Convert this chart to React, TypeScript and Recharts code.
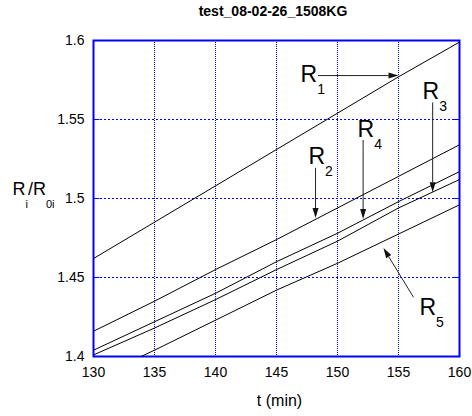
import {
  Label,
  Line,
  LineChart,
  ReferenceArea,
  ReferenceDot,
  ReferenceLine,
  XAxis,
  YAxis,
} from "recharts";

// sample times (min) and normalised resistance
const times = [130, 135, 140, 145, 150, 155, 160];
const r1 = [1.462, 1.485, 1.508, 1.531, 1.554, 1.577, 1.599];
const r2 = [1.416, 1.435, 1.455, 1.474, 1.494, 1.514, 1.534];
const r4 = [1.404, 1.422, 1.44, 1.46, 1.478, 1.498, 1.517];
const r3 = [1.401, 1.418, 1.436, 1.455, 1.473, 1.494, 1.512];
// R5 enters the frame a little after 130 min
const r5Times = [133.9, 135, 140, 145, 150, 155, 160];
const r5 = [1.4, 1.404, 1.423, 1.442, 1.459, 1.4775, 1.496];

const xTicks = [130, 135, 140, 145, 150, 155, 160];
const yTicks = [1.4, 1.45, 1.5, 1.55, 1.6];

// annotation arrows: tail -> tip, in data units
const arrows = [
  { id: "1", from: [148.4, 1.5778], to: [155, 1.5778] },
  { id: "2", from: [148.2, 1.5194], to: [148.2, 1.4876] },
  { id: "4", from: [152.1, 1.5371], to: [152.1, 1.487] },
  { id: "3", from: [157.8, 1.5608], to: [157.8, 1.504] },
  { id: "5", from: [156.23, 1.4375], to: [153.77, 1.4686] },
];

// "R_n" label anchors (left edge / baseline of the R)
const labels = [
  { sub: "1", t: 146.97, v: 1.574 },
  { sub: "2", t: 147.62, v: 1.5219 },
  { sub: "4", t: 151.64, v: 1.539 },
  { sub: "3", t: 156.97, v: 1.5632 },
  { sub: "5", t: 156.72, v: 1.426 },
];

const font = "'Liberation Sans', Arial, sans-serif";
const blue = "#0000ff";

const toPoints = (ts: number[], vs: number[]) => ts.map((t, i) => ({ t, v: vs[i] }));

const series = [
  { key: "R1", data: toPoints(times, r1) },
  { key: "R2", data: toPoints(times, r2) },
  { key: "R4", data: toPoints(times, r4) },
  { key: "R3", data: toPoints(times, r3) },
  { key: "R5", data: toPoints(r5Times, r5) },
];

const ArrowShape = (props: any) => {
  const { x1, y1, x2, y2 } = props;
  const a = Math.atan2(y2 - y1, x2 - x1);
  const len = 10;
  const half = 3;
  const bx = x2 - len * Math.cos(a);
  const by = y2 - len * Math.sin(a);
  const pts = [
    `${x2},${y2}`,
    `${bx - half * Math.sin(a)},${by + half * Math.cos(a)}`,
    `${bx + half * Math.sin(a)},${by - half * Math.cos(a)}`,
  ].join(" ");
  return (
    <g>
      <line x1={x1} y1={y1} x2={bx} y2={by} stroke="#222" strokeWidth={1} />
      <polygon points={pts} fill="#111" />
    </g>
  );
};

const labelShape = (sub: string) => (props: any) => (
  <text x={props.cx} y={props.cy} fontSize={23} fontFamily={font} fill="#000">
    R
    <tspan fontSize={14} dy={12}>
      {sub}
    </tspan>
  </text>
);

const YTitle = (props: any) => {
  const vb = props.viewBox;
  return (
    <text x={vb.x + 12} y={vb.y + vb.height / 2 - 3.5} fontSize={18} fontFamily={font} fill="#000">
      R
      <tspan fontSize={11} dy={13}>i</tspan>
      <tspan dy={-13}>/R</tspan>
      <tspan fontSize={11} dy={13}>0i</tspan>
    </text>
  );
};

const XTitle = (props: any) => {
  const vb = props.viewBox;
  return (
    <text
      x={vb.x + vb.width / 2 + 3}
      y={vb.y + 49}
      fontSize={16}
      fontFamily={font}
      textAnchor="middle"
      fill="#000"
    >
      t (min)
    </text>
  );
};

const tickStyle = { fontSize: 14, fontFamily: font, fill: "#000" };
const blank = () => "";

export default function App() {
  return (
    <div style={{ position: "absolute", left: 0, top: 0, width: 472, height: 416, background: "#fff" }}>
      <svg width={472} height={24} style={{ position: "absolute", left: 0, top: 0 }}>
        <text x={273} y={16} textAnchor="middle" fontSize={14} fontWeight="bold" fontFamily={font}>
          test_08-02-26_1508KG
        </text>
      </svg>
      {/* half-pixel margins keep the 1px dotted grid crisp */}
      <LineChart width={472} height={416} margin={{ top: 40.5, right: 12.5, bottom: 0, left: 0.5 }}>
        <XAxis
          dataKey="t"
          type="number"
          domain={[130, 160]}
          ticks={xTicks}
          allowDataOverflow
          height={59.5}
          axisLine={false}
          tickLine={false}
          tickSize={0}
          tickMargin={11}
          tick={tickStyle}
        >
          <Label content={XTitle} />
        </XAxis>
        <YAxis
          type="number"
          domain={[1.4, 1.6]}
          ticks={yTicks}
          allowDataOverflow
          width={93}
          axisLine={false}
          tickLine={false}
          tickSize={0}
          tickMargin={9}
          tick={tickStyle}
          tickFormatter={(v: number) => String(v)}
        >
          <Label content={YTitle} />
        </YAxis>
        {/* mirrored axes only supply the short inward tick marks on every side */}
        <XAxis xAxisId="bm" type="number" domain={[130, 160]} ticks={xTicks} orientation="bottom" mirror
          axisLine={false} tickSize={5} stroke={blue} tickFormatter={blank} allowDataOverflow />
        <XAxis xAxisId="tm" type="number" domain={[130, 160]} ticks={xTicks} orientation="top" mirror
          axisLine={false} tickSize={5} stroke={blue} tickFormatter={blank} allowDataOverflow />
        <YAxis yAxisId="lm" type="number" domain={[1.4, 1.6]} ticks={yTicks} orientation="left" mirror
          axisLine={false} tickSize={6} stroke={blue} tickFormatter={blank} allowDataOverflow />
        <YAxis yAxisId="rm" type="number" domain={[1.4, 1.6]} ticks={yTicks} orientation="right" mirror
          axisLine={false} tickSize={6} stroke={blue} tickFormatter={blank} allowDataOverflow />
        {/* dotted blue grid */}
        {xTicks.map((t) => (
          <ReferenceLine key={"gx" + t} x={t} stroke={blue} strokeDasharray="1 1" strokeDashoffset={0.5} />
        ))}
        {yTicks.map((v) => (
          <ReferenceLine key={"gy" + v} y={v} stroke={blue} strokeDasharray="2 2" strokeDashoffset={1.5} />
        ))}
        <ReferenceArea x1={130} x2={160} y1={1.4} y2={1.6} fill="none" stroke={blue} strokeWidth={2} />
        {series.map((s) => (
          <Line
            key={s.key}
            data={s.data}
            dataKey="v"
            type="linear"
            stroke="#000"
            strokeWidth={1}
            dot={false}
            activeDot={false}
            isAnimationActive={false}
          />
        ))}
        {arrows.map((a) => (
          <ReferenceLine
            key={"a" + a.id}
            segment={[
              { x: a.from[0], y: a.from[1] },
              { x: a.to[0], y: a.to[1] },
            ]}
            shape={ArrowShape}
          />
        ))}
        {labels.map((l) => (
          <ReferenceDot key={"l" + l.sub} x={l.t} y={l.v} r={0} shape={labelShape(l.sub)} />
        ))}
      </LineChart>
    </div>
  );
}
